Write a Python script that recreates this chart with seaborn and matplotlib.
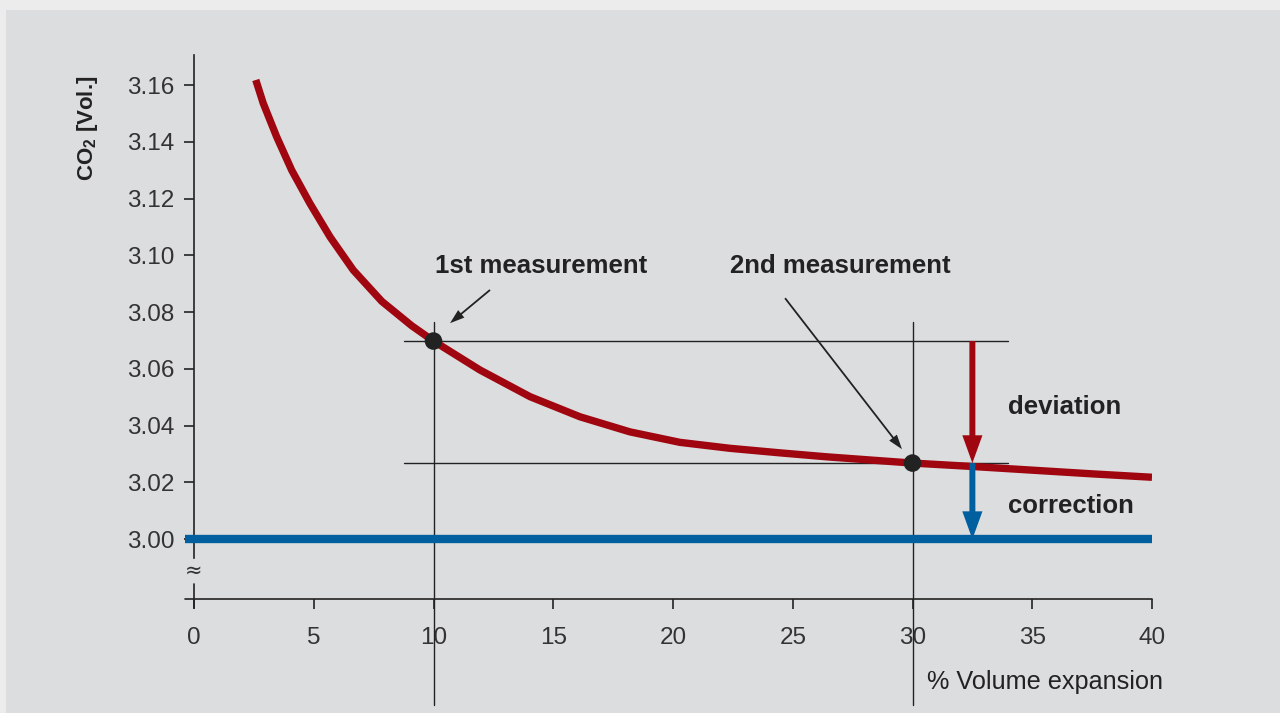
import matplotlib
matplotlib.use("Agg")
import matplotlib.pyplot as plt
import seaborn as sns
import pandas as pd
from matplotlib.patches import Rectangle

# ---- data ----
x_curve = [2.58, 2.89, 3.45, 4.08, 4.84, 5.68, 6.65, 7.84, 9.09, 10.0, 11.94,
           14.03, 16.12, 18.2, 20.29, 22.38, 24.47, 26.42, 28.2, 30.0, 32.5,
           35.0, 37.5, 40.0]
y_curve = [3.1618, 3.1536, 3.1418, 3.1300, 3.1183, 3.1065, 3.0948, 3.0838,
           3.0752, 3.0698, 3.0596, 3.0502, 3.0431, 3.0378, 3.0341, 3.0320,
           3.0304, 3.0290, 3.0279, 3.0268, 3.0256, 3.0243, 3.0230, 3.0218]
x_base = [-0.37, 40.0]
y_base = [3.00, 3.00]
meas_x = [10.0, 30.0]
meas_y = [3.0698, 3.0268]
meas_labels = ["1st measurement", "2nd measurement"]
arrow_x = 32.5
x_ticks = [0, 5, 10, 15, 20, 25, 30, 35, 40]
y_ticks = [3.00, 3.02, 3.04, 3.06, 3.08, 3.10, 3.12, 3.14, 3.16]

RED = "#a0060f"
BLUE = "#005f9e"
INK = "#222222"

sns.set_theme(style="white")
plt.rcParams["font.family"] = ["Liberation Sans", "DejaVu Sans"]
plt.rcParams["mathtext.fontset"] = "custom"
plt.rcParams["mathtext.rm"] = "Liberation Sans"
plt.rcParams["mathtext.bf"] = "Liberation Sans:bold"

fig = plt.figure(figsize=(12.8, 7.13), dpi=100, facecolor="#ececec")
fig.patches.append(Rectangle((6 / 1280, 0), 1, (713 - 10) / 713,
                             transform=fig.transFigure, facecolor="#dcdddf",
                             edgecolor="none", zorder=-10))

ax = fig.add_axes([194 / 1280, (713 - 599) / 713, 958 / 1280, (599 - 55) / 713])
ax.set_zorder(2)
ax.set_facecolor("none")
ybot, ytop = 2.9789, 3.1706
ax.set_xlim(0, 40)
ax.set_ylim(ybot, ytop)

# guide lines
ax.plot([8.77, 33.99], [meas_y[0]] * 2, color=INK, lw=1.0, zorder=2)
ax.plot([8.77, 33.99], [meas_y[1]] * 2, color=INK, lw=1.0, zorder=2)
for mx in meas_x:
    ax.plot([mx, mx], [2.9415, 3.0765], color=INK, lw=1.0, zorder=2, clip_on=False)

# baseline & curve
df_base = pd.DataFrame({"x": x_base, "y": y_base})
sns.lineplot(data=df_base, x="x", y="y", ax=ax, color=BLUE, lw=6,
             solid_capstyle="butt", zorder=3, clip_on=False)
df_curve = pd.DataFrame({"x": x_curve, "y": y_curve})
sns.lineplot(data=df_curve, x="x", y="y", ax=ax, color=RED, lw=5.3, sort=False,
             solid_capstyle="butt", solid_joinstyle="round", zorder=4)

# measurement dots
sns.scatterplot(x=meas_x, y=meas_y, ax=ax, color=INK, s=160, zorder=6,
                edgecolor="none")

# deviation / correction arrows
big = "simple,head_length=2.0,head_width=1.45,tail_width=0.43"
ax.annotate("", xy=(arrow_x, meas_y[1]), xytext=(arrow_x, meas_y[0]),
            arrowprops=dict(arrowstyle=big, color=RED, lw=0, shrinkA=0,
                            shrinkB=0, mutation_scale=10), zorder=5)
ax.annotate("", xy=(arrow_x, y_base[0]), xytext=(arrow_x, meas_y[1]),
            arrowprops=dict(arrowstyle=big, color=BLUE, lw=0, shrinkA=0,
                            shrinkB=0, mutation_scale=10), zorder=5)

# annotation texts and pointers
ax.text(14.49, 3.0962, meas_labels[0], ha="center", va="center",
        fontsize=18.5, fontweight="bold", color=INK)
ax.text(26.97, 3.0962, meas_labels[1], ha="center", va="center",
        fontsize=18.5, fontweight="bold", color=INK)
small = "simple,head_length=1.05,head_width=0.7,tail_width=0.13"
ax.annotate("", xy=(10.69, 3.0761), xytext=(12.36, 3.0878),
            arrowprops=dict(arrowstyle=small, color=INK, lw=0, shrinkA=0,
                            shrinkB=0, mutation_scale=10))
ax.annotate("", xy=(29.56, 3.0317), xytext=(24.68, 3.0849),
            arrowprops=dict(arrowstyle=small, color=INK, lw=0, shrinkA=0,
                            shrinkB=0, mutation_scale=10))
ax.text(33.99, 3.0465, "deviation", ha="left", va="center",
        fontsize=18.5, fontweight="bold", color=INK)
ax.text(33.99, 3.0116, "correction", ha="left", va="center",
        fontsize=18.5, fontweight="bold", color=INK)

# axes
for s in ["top", "right", "bottom"]:
    ax.spines[s].set_visible(False)
ax.spines["left"].set_color(INK)
ax.spines["left"].set_linewidth(1.2)
ax.spines["left"].set_bounds(2.9933, ytop)
ax.plot([0, 0], [2.9757, 2.9841], color=INK, lw=1.2, clip_on=False, zorder=2)
ax.plot([-0.37, 40], [ybot, ybot], color=INK, lw=1.2, clip_on=False, zorder=2)
ax.text(0, 2.9889, "≈", ha="center", va="center", fontsize=15, color="#333333",
        family=["DejaVu Sans"])

ax.set_xticks(x_ticks)
ax.set_xticklabels([str(t) for t in x_ticks])
ax.set_yticks(y_ticks)
ax.set_yticklabels([f"{t:.2f}" for t in y_ticks])
ax.tick_params(axis="both", which="major", direction="out", length=7,
               width=1.2, color=INK, labelsize=17.5, labelcolor="#333333")
ax.tick_params(axis="x", pad=13, bottom=True)
ax.tick_params(axis="y", pad=7, left=True)
ax.set_xlabel("")
ax.set_ylabel("")

fig.text(1163 / 1280, (713 - 682) / 713, "% Volume expansion", ha="right",
         va="center", fontsize=18.2, color=INK)
fig.text(88 / 1280, (713 - 128) / 713, r"CO$_\mathbf{2}$ [Vol.]", rotation=90,
         ha="center", va="center", fontsize=16, fontweight="bold", color=INK)

fig.savefig("out.png", dpi=100, facecolor=fig.get_facecolor())
